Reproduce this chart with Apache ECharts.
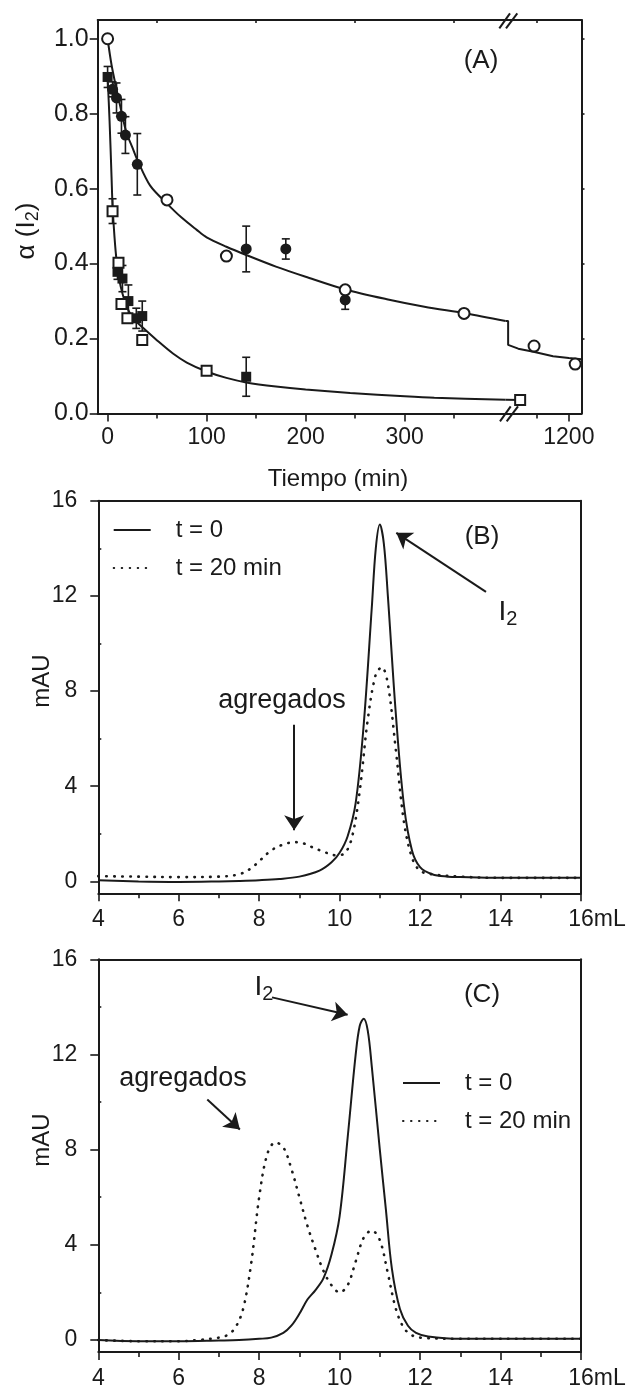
<!DOCTYPE html>
<html>
<head>
<meta charset="utf-8">
<script src="https://cdn.jsdelivr.net/npm/echarts@6/dist/echarts.min.js"></script>
<style>
  html, body { margin: 0; padding: 0; background: #fff; }
  #chart { width: 631px; height: 1389px; }
</style>
</head>
<body>
<div id="chart"></div>
<script>
// ---------- Panel A: fraction of I2 remaining vs. time (min) ----------
const aOpenCircles      = [[0, 1.0], [60, 0.57], [120, 0.42], [240, 0.33], [360, 0.267]];
const aOpenCirclesLate  = [[1145, 0.18], [1210, 0.132]];
const aFilledCircles    = [[5, 0.865], [9, 0.842], [14, 0.793], [18, 0.743], [30, 0.665], [140, 0.439], [180, 0.439], [240, 0.303]];
const aFilledCircleErr  = [0.02, 0.04, 0.045, 0.049, 0.082, 0.061, 0.027, 0.025];
const aOpenSquares      = [[5, 0.54], [11, 0.402], [14, 0.292], [20, 0.254], [35, 0.196], [100, 0.114]];
const aOpenSquareErr    = [0.033, 0, 0, 0, 0, 0];
const aOpenSquaresLate  = [[1123, 0.036]];
const aFilledSquares    = [[0, 0.898], [10, 0.378], [15, 0.36], [21, 0.30], [29, 0.254], [35, 0.26], [140, 0.098]];
const aFilledSquareErr  = [0.028, 0.02, 0.035, 0.043, 0.027, 0.04, 0.052];

// fitted decay curves
const aSlowFit = [[0, 1.0], [4, 0.93], [9, 0.865], [14, 0.805], [19, 0.75], [25, 0.71], [30, 0.677], [43, 0.608],
  [60, 0.56], [75, 0.522], [90, 0.49], [100, 0.47], [120, 0.445], [140, 0.423], [170, 0.392], [200, 0.365],
  [240, 0.331], [282, 0.305], [320, 0.285], [362, 0.267], [402, 0.247]];
const aSlowFitLate = [[1100, 0.247], [1104, 0.247], [1104, 0.183], [1120, 0.173], [1144, 0.165], [1175, 0.153], [1200, 0.148], [1220, 0.145]];
const aFastFit = [[0, 0.9], [2, 0.78], [4, 0.63], [5, 0.555], [7, 0.47], [9, 0.41], [12, 0.355], [15, 0.32], [18, 0.295],
  [22, 0.27], [26, 0.255], [30, 0.243], [36, 0.228], [50, 0.195], [66, 0.16], [80, 0.136], [100, 0.112], [120, 0.095],
  [140, 0.083], [170, 0.072], [200, 0.064], [245, 0.055], [300, 0.046], [330, 0.042], [402, 0.037]];
const aFastFitLate = [[1100, 0.037], [1123, 0.036]];

const aTimeTicks = [0, 100, 200, 300];
const aTimeMinorTicks = [50, 150, 250, 350];
const aLateTicks = [1200];
const aLateMinorTicks = [1150];
const aFractionTicks = [0, 0.2, 0.4, 0.6, 0.8, 1.0];

// ---------- Panels B and C: elution profiles (mAU vs. mL) ----------
const seriesNames = ['t = 0', 't = 20 min'];
const bVolT0 = [4, 5, 6, 7, 7.5, 8, 8.5, 9, 9.5, 9.8, 10, 10.2, 10.4, 10.6, 10.8, 10.9, 11, 11.1, 11.2, 11.4, 11.6, 11.8, 12, 12.3, 12.7, 13, 14, 15, 16];
const bAbsT0 = [0.05, 0.0, -0.02, 0.0, 0.02, 0.05, 0.1, 0.2, 0.45, 0.8, 1.2, 1.9, 3.3, 6.6, 11.5, 14, 15.0, 14.2, 12.0, 7.0, 3.2, 1.3, 0.6, 0.3, 0.2, 0.18, 0.15, 0.15, 0.15];
const bVolT20 = [4, 5, 6, 7, 7.5, 7.8, 8.0, 8.3, 8.6, 8.9, 9.1, 9.3, 9.6, 9.9, 10.1, 10.3, 10.5, 10.7, 10.9, 11.05, 11.2, 11.4, 11.6, 11.8, 12, 12.3, 13, 14, 16];
const bAbsT20 = [0.22, 0.2, 0.18, 0.2, 0.3, 0.55, 0.85, 1.3, 1.55, 1.65, 1.6, 1.45, 1.25, 1.1, 1.15, 1.8, 3.8, 6.8, 8.7, 9.0, 8.3, 5.5, 2.5, 1.0, 0.45, 0.3, 0.2, 0.15, 0.15];

const cVolT0 = [4, 5, 6, 7, 7.5, 8, 8.3, 8.6, 8.8, 9.0, 9.2, 9.4, 9.6, 9.8, 10.0, 10.2, 10.4, 10.5, 10.6, 10.7, 10.8, 11.0, 11.15, 11.3, 11.5, 11.7, 11.9, 12.2, 13, 14, 16];
const cAbsT0 = [0.0, -0.05, -0.05, -0.02, 0.0, 0.05, 0.1, 0.3, 0.6, 1.1, 1.7, 2.1, 2.6, 3.6, 5.2, 8.5, 12.0, 13.2, 13.5, 13.0, 11.5, 8.0, 5.5, 3.0, 1.3, 0.6, 0.3, 0.15, 0.05, 0.05, 0.05];
const cVolT20 = [4, 5, 6, 6.5, 7, 7.2, 7.4, 7.6, 7.8, 8.0, 8.2, 8.4, 8.6, 8.8, 9.0, 9.2, 9.4, 9.6, 9.8, 10.0, 10.2, 10.4, 10.6, 10.8, 11.0, 11.2, 11.4, 11.6, 11.8, 12, 13, 14, 16];
const cAbsT20 = [0.0, -0.05, -0.05, 0.0, 0.1, 0.2, 0.5, 1.3, 3.2, 6.0, 7.8, 8.3, 8.1, 7.2, 6.0, 4.8, 3.8, 2.9, 2.3, 2.0, 2.3, 3.3, 4.3, 4.6, 4.2, 2.8, 1.3, 0.5, 0.2, 0.1, 0.05, 0.05, 0.05];

const absTicks = [0, 4, 8, 12, 16];
const absMinorTicks = [2, 6, 10, 14];

// annotation arrows, [start, end] in (mL, mAU)
const bAggArrow = [[8.87, 6.58], [8.87, 2.15]];
const bI2Arrow  = [[13.64, 12.17], [11.41, 14.65]];
const cAggArrow = [[6.71, 10.11], [7.52, 8.85]];
const cI2Arrow  = [[8.32, 14.40], [10.20, 13.67]];

// ---------- styling ----------
const INK = '#1a1a1a';
const FONT = "'Liberation Sans', Arial, Helvetica, sans-serif";
const pairs = (xs, ys) => xs.map((x, i) => [x, ys[i]]);
const withErr = (pts, errs) => pts.map((p, i) => [p[0], p[1], errs[i]]).filter(d => d[2] > 0);

const lineAxis = { show: true, onZero: false, lineStyle: { color: INK, width: 2 } };
const tickStyle = { color: INK, width: 1.6 };
const labelStyle = { color: INK, fontSize: 23, fontFamily: FONT };

function axis(extra) {
  return Object.assign({
    type: 'value',
    axisLine: lineAxis,
    axisTick: { show: false },
    axisLabel: { show: false },
    splitLine: { show: false },
    minorTick: { show: false },
    minorSplitLine: { show: false }
  }, extra);
}

const grids = [
  { left: 97.7, top: 20, width: 407.9, height: 393.5 },   // A, before break
  { left: 505.6, top: 20, width: 75.9, height: 393.5 },   // A, after break
  { left: 98.3, top: 500.7, width: 482.6, height: 392.6 }, // B
  { left: 98.3, top: 959.3, width: 482.6, height: 392.6 }  // C
].map(g => Object.assign({ outerBoundsMode: 'none', containLabel: false }, g));

const plainNum = v => String(v);
const volLabelFmt = v => (v === 16 ? '{s|}16{u|mL}' : String(v));
const volLabelRich = { s: { width: 32 }, u: { fontSize: 23, fontFamily: FONT, color: INK } };

const xAxes = [
  // 0: A time axis (0-400)
  axis({ gridIndex: 0, position: 'bottom', min: -10, max: 402,
    axisTick: { show: true, length: 8, lineStyle: tickStyle, customValues: aTimeTicks },
    axisLabel: Object.assign({ show: true, margin: 13, customValues: aTimeTicks, formatter: plainNum }, labelStyle) }),
  // 1: A minor ticks
  axis({ gridIndex: 0, position: 'bottom', min: -10, max: 402, axisLine: { show: false },
    axisTick: { show: true, length: 5, lineStyle: tickStyle, customValues: aTimeMinorTicks } }),
  // 2: A top frame
  axis({ gridIndex: 0, position: 'top', min: -10, max: 402,
    axisTick: { show: true, inside: true, length: 3, lineStyle: tickStyle, customValues: aTimeMinorTicks } }),
  // 3: A late-time axis (after break)
  axis({ gridIndex: 1, position: 'bottom', min: 1100, max: 1220,
    axisTick: { show: true, length: 8, lineStyle: tickStyle, customValues: aLateTicks },
    axisLabel: Object.assign({ show: true, margin: 13, customValues: aLateTicks, formatter: plainNum }, labelStyle) }),
  // 4: late minor ticks
  axis({ gridIndex: 1, position: 'bottom', min: 1100, max: 1220, axisLine: { show: false },
    axisTick: { show: true, length: 5, lineStyle: tickStyle, customValues: aLateMinorTicks } }),
  // 5: late top frame
  axis({ gridIndex: 1, position: 'top', min: 1100, max: 1220,
    axisTick: { show: true, inside: true, length: 3, lineStyle: tickStyle, customValues: aLateMinorTicks } }),
  // 6: B volume axis
  axis({ gridIndex: 2, position: 'bottom', min: 4, max: 16, interval: 2,
    axisTick: { show: true, length: 8, lineStyle: tickStyle },
    minorTick: { show: true, splitNumber: 2, length: 5, lineStyle: tickStyle },
    axisLabel: Object.assign({ show: true, margin: 15, formatter: volLabelFmt, rich: volLabelRich }, labelStyle) }),
  // 7: B top frame
  axis({ gridIndex: 2, position: 'top', min: 4, max: 16 }),
  // 8: C volume axis
  axis({ gridIndex: 3, position: 'bottom', min: 4, max: 16, interval: 2,
    axisTick: { show: true, length: 8, lineStyle: tickStyle },
    minorTick: { show: true, splitNumber: 2, length: 5, lineStyle: tickStyle },
    axisLabel: Object.assign({ show: true, margin: 15, formatter: volLabelFmt, rich: volLabelRich }, labelStyle) }),
  // 9: C top frame
  axis({ gridIndex: 3, position: 'top', min: 4, max: 16 })
];

const yAxes = [
  // 0: A fraction axis
  axis({ gridIndex: 0, position: 'left', min: 0, max: 1.05,
    axisTick: { show: true, length: 8, lineStyle: tickStyle, customValues: aFractionTicks },
    axisLabel: Object.assign({}, labelStyle, { show: true, margin: 9, fontSize: 25, customValues: aFractionTicks, formatter: v => v.toFixed(1) }) }),
  // 1: A right frame
  axis({ gridIndex: 1, position: 'right', min: 0, max: 1.05,
    axisTick: { show: true, length: 3, lineStyle: tickStyle, customValues: aFractionTicks.slice(1) } }),
  // 2: B absorbance axis
  axis({ gridIndex: 2, position: 'left', min: -0.5, max: 16,
    axisTick: { show: true, length: 8, lineStyle: tickStyle, customValues: absTicks },
    axisLabel: Object.assign({ show: true, margin: 21, customValues: absTicks }, labelStyle) }),
  // 3: B minor ticks
  axis({ gridIndex: 2, position: 'left', min: -0.5, max: 16, axisLine: { show: false },
    axisTick: { show: true, inside: true, length: 3, lineStyle: tickStyle, customValues: absMinorTicks } }),
  // 4: B right frame
  axis({ gridIndex: 2, position: 'right', min: -0.5, max: 16 }),
  // 5: C absorbance axis
  axis({ gridIndex: 3, position: 'left', min: -0.5, max: 16,
    axisTick: { show: true, length: 8, lineStyle: tickStyle, customValues: absTicks },
    axisLabel: Object.assign({ show: true, margin: 21, customValues: absTicks }, labelStyle) }),
  // 6: C minor ticks
  axis({ gridIndex: 3, position: 'left', min: -0.5, max: 16, axisLine: { show: false },
    axisTick: { show: true, inside: true, length: 3, lineStyle: tickStyle, customValues: absMinorTicks } }),
  // 7: C right frame
  axis({ gridIndex: 3, position: 'right', min: -0.5, max: 16 })
];

// error bars with end caps
function errorBarItem(params, api) {
  const x = api.value(0), y = api.value(1), e = api.value(2);
  const top = api.coord([x, y + e]);
  const bot = api.coord([x, y - e]);
  const hw = 4;
  const st = { stroke: INK, lineWidth: 1.6, fill: null };
  return {
    type: 'group',
    children: [
      { type: 'line', shape: { x1: top[0], y1: top[1], x2: bot[0], y2: bot[1] }, style: st },
      { type: 'line', shape: { x1: top[0] - hw, y1: top[1], x2: top[0] + hw, y2: top[1] }, style: st },
      { type: 'line', shape: { x1: bot[0] - hw, y1: bot[1], x2: bot[0] + hw, y2: bot[1] }, style: st }
    ]
  };
}

const errorData = [].concat(
  withErr(aFilledCircles, aFilledCircleErr),
  withErr(aFilledSquares, aFilledSquareErr),
  withErr(aOpenSquares, aOpenSquareErr)
);

function fitLine(data, xi, yi, smooth) {
  return { type: 'line', xAxisIndex: xi, yAxisIndex: yi, data: data, symbol: 'none', smooth: smooth,
    lineStyle: { color: INK, width: 2 }, silent: true, z: 2, animation: false };
}
function markers(data, xi, yi, symbol, size, filled) {
  return { type: 'scatter', xAxisIndex: xi, yAxisIndex: yi, data: data, symbol: symbol, symbolSize: size,
    itemStyle: filled ? { color: INK, opacity: 1 } : { color: INK, borderColor: INK, borderWidth: 1.6, opacity: 1 },
    silent: true, z: 4, animation: false };
}
function arrow(seg) {
  return [{ coord: seg[0], symbol: 'none' }, { coord: seg[1], symbol: 'arrow' }];
}
function profile(name, xs, ys, xi, yi, dotted, arrows) {
  const s = { type: 'line', name: name, xAxisIndex: xi, yAxisIndex: yi, data: pairs(xs, ys),
    symbol: 'none', smooth: 0.35, silent: true, animation: false,
    itemStyle: { color: INK },
    lineStyle: dotted ? { color: INK, width: 2.6, type: [0.5, 7.5], cap: 'round' } : { color: INK, width: 2 } };
  if (arrows) {
    s.markLine = { silent: true, animation: false, symbolSize: 15, label: { show: false },
      lineStyle: { color: INK, width: 2, type: 'solid' }, data: arrows.map(arrow) };
  }
  return s;
}

const series = [
  { type: 'custom', xAxisIndex: 0, yAxisIndex: 0, data: errorData, renderItem: errorBarItem,
    encode: { x: 0, y: 1 }, silent: true, z: 3, animation: false },
  fitLine(aSlowFit, 0, 0, 0.3),
  fitLine(aFastFit, 0, 0, 0.3),
  fitLine(aSlowFitLate, 3, 1, false),
  fitLine(aFastFitLate, 3, 1, false),
  markers(aFilledSquares, 0, 0, 'rect', 10, true),
  markers(aFilledCircles, 0, 0, 'circle', 11, true),
  markers(aOpenSquares, 0, 0, 'emptyRect', 10, false),
  markers(aOpenCircles, 0, 0, 'emptyCircle', 11, false),
  markers(aOpenSquaresLate, 3, 1, 'emptyRect', 10, false),
  markers(aOpenCirclesLate, 3, 1, 'emptyCircle', 11, false),
  profile(seriesNames[0], bVolT0, bAbsT0, 6, 2, false, [bAggArrow, bI2Arrow]),
  profile(seriesNames[1], bVolT20, bAbsT20, 6, 2, true),
  profile(seriesNames[0], cVolT0, cAbsT0, 8, 5, false, [cAggArrow, cI2Arrow]),
  profile(seriesNames[1], cVolT20, cAbsT20, 8, 5, true)
];

// legend keys: line sample only (the marker in the middle is hidden)
const legendBase = {
  orient: 'vertical', selectedMode: false, itemWidth: 37, itemHeight: 14, itemGap: 14,
  itemStyle: { opacity: 0 },
  textStyle: { fontSize: 24, color: INK, fontFamily: FONT, padding: [0, 0, 0, 20] },
  data: seriesNames
};
const legends = [
  Object.assign({}, legendBase, { left: 107.7, top: 513 }),
  Object.assign({}, legendBase, { left: 397, top: 1066 })
];

const textStyleBase = { fill: INK, fontFamily: FONT, align: 'center', verticalAlign: 'middle' };
function label(x, y, text, size, extra) {
  return { type: 'text', x: x, y: y, silent: true, z: 10,
    style: Object.assign({}, textStyleBase, { text: text, fontSize: size }, extra || {}) };
}
const subRich = size => ({ s: { fontSize: size, fontFamily: FONT, fill: INK, padding: [Math.round(size * 0.7), 0, 0, 0] } });
const vertical = el => Object.assign(el, { rotation: Math.PI / 2 });

function breakMark(cx, cy) {
  const st = { stroke: INK, lineWidth: 2 };
  return [
    { type: 'line', silent: true, z: 10, shape: { x1: cx - 9, y1: cy + 7.5, x2: cx + 1.7, y2: cy - 7.5 }, style: st },
    { type: 'line', silent: true, z: 10, shape: { x1: cx - 2.3, y1: cy + 7.5, x2: cx + 9, y2: cy - 7.5 }, style: st }
  ];
}

const graphics = [].concat(
  breakMark(508.3, 20.8),
  breakMark(509, 413.8),
  [
    label(481, 61, '(A)', 26),
    vertical(label(27, 231, 'α (I{s|2})', 26, { rich: subRich(18) })),
    label(338, 479, 'Tiempo (min)', 24),
    label(482, 537, '(B)', 26),
    vertical(label(42, 681, 'mAU', 24)),
    label(282, 701, 'agregados', 27),
    label(508, 612, 'I{s|2}', 28, { rich: subRich(20) }),
    label(482, 995, '(C)', 26),
    vertical(label(42, 1140, 'mAU', 24)),
    label(183, 1079, 'agregados', 27),
    label(264, 987, 'I{s|2}', 28, { rich: subRich(20) })
  ]
);

const chart = echarts.init(document.getElementById('chart'), null, { renderer: 'canvas' });
chart.setOption({
  backgroundColor: '#ffffff',
  animation: false,
  grid: grids,
  xAxis: xAxes,
  yAxis: yAxes,
  legend: legends,
  series: series,
  graphic: graphics
});
</script>
</body>
</html>
